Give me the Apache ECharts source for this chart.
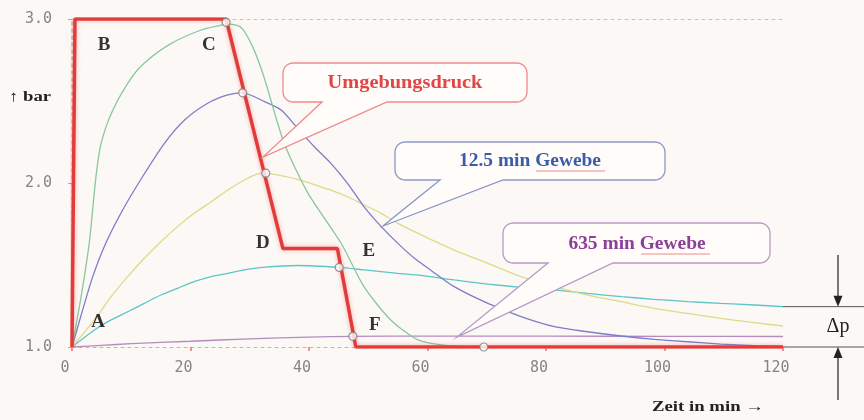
<!DOCTYPE html>
<html>
<head>
<meta charset="utf-8">
<script src="https://cdn.jsdelivr.net/npm/echarts@6/dist/echarts.min.js"></script>
<style>
html,body{margin:0;padding:0;background:#fcf8f5;}
#c{width:864px;height:420px;}
</style>
</head>
<body>
<div id="c"></div>
<script>
// ---- data (time in min, pressure in bar) ----
var xTicks = [0, 20, 40, 60, 80, 100, 120];
var yTicks = [1.0, 2.0, 3.0];

var ambient = [[0,1.0],[0.5,3.0],[26,3.0],[35.6,1.6],[44.8,1.6],[47.9,1.0],[120,1.0]];

var tissueGreen = [[0,1.0],[1.5,1.3],[2.9,1.63],[4.05,2.04],[4.9,2.24],[6.9,2.445],[10.2,2.65],[12.8,2.75],[16.7,2.85],[21.8,2.933],[25.2,2.963],[26.0,2.97],[28.5,2.95],[30.5,2.83],[32.4,2.646],[35.8,2.244],[39.8,1.94],[45.4,1.634],[49.3,1.366],[53.8,1.165],[58.4,1.043],[63,1.01],[69.5,1.0],[80,1.0],[120,1.0]];

var tissueBlue = [[0,1.0],[1.8,1.226],[3.5,1.429],[5.7,1.632],[8.55,1.835],[11.9,2.038],[15.6,2.242],[19.0,2.384],[22.9,2.486],[26.3,2.537],[28.8,2.55],[32.5,2.496],[35.3,2.445],[38.1,2.333],[40.9,2.221],[43.7,2.12],[46.5,1.998],[49.3,1.855],[52.2,1.734],[55.0,1.632],[57.8,1.541],[60.5,1.47],[64.5,1.368],[70.2,1.266],[75.8,1.185],[81.4,1.124],[87.0,1.093],[92.7,1.067],[98.3,1.047],[103.9,1.032],[109.5,1.018],[115.2,1.008],[120,1.002]];

var tissueYellow = [[0,1.0],[3.8,1.165],[6.6,1.307],[9.4,1.429],[12.2,1.541],[15.0,1.642],[17.8,1.734],[20.6,1.815],[23.5,1.886],[26.3,1.957],[29.1,2.018],[31.3,2.055],[32.7,2.06],[35.3,2.045],[38.1,2.022],[40.9,1.99],[43.7,1.957],[46.5,1.916],[49.3,1.866],[52.2,1.815],[55.0,1.754],[57.8,1.703],[60.6,1.655],[64.5,1.591],[70.2,1.51],[75.8,1.429],[81.4,1.368],[87.0,1.317],[92.7,1.276],[98.3,1.236],[103.9,1.205],[109.5,1.175],[115.2,1.148],[120,1.128]];

var tissueCyan = [[0,1.0],[3.8,1.104],[6.6,1.165],[9.4,1.215],[12.2,1.266],[15.0,1.317],[17.8,1.358],[20.6,1.398],[23.5,1.429],[26.3,1.449],[29.1,1.47],[32.5,1.487],[38.1,1.497],[45.1,1.485],[49.3,1.47],[55.0,1.449],[58.9,1.437],[64.5,1.409],[70.2,1.384],[75.8,1.364],[81.4,1.348],[87.0,1.327],[92.7,1.307],[98.3,1.291],[103.9,1.277],[109.5,1.266],[115.2,1.256],[120,1.246]];

var tissuePurple = [[0,1.0],[5,1.01],[10,1.02],[20,1.035],[30,1.05],[40,1.06],[47.4,1.065],[60,1.066],[80,1.066],[100,1.065],[120,1.064]];

var crossPoints = [[26,2.98],[28.8,2.55],[32.7,2.06],[45.1,1.485],[47.4,1.065],[69.5,1.0]];

var letterNames = ['A','B','C','D','E','F'];
var letterPos = [[4.4,1.152],[5.4,2.84],[23.1,2.84],[32.2,1.634],[50.1,1.585],[51.1,1.134]];

var chart = echarts.init(document.getElementById('c'));
var serif = '"Liberation Serif", "DejaVu Serif", serif';
var mono = '"DejaVu Sans Mono", "Liberation Mono", monospace';

function tissue(data, color){
  return {type:'line', data:data, smooth:0.25, symbol:'none',
    lineStyle:{color:color, width:1.3}, z:2, silent:true};
}

var option = {
  backgroundColor:'#fcf8f5',
  animation:false,
  grid:{left:72, right:81, top:19, bottom:73},
  xAxis:[{
    type:'value', min:0, max:120, interval:20,
    axisLine:{show:true, lineStyle:{color:'#b8b8b8', type:[3,4], width:1}},
    axisTick:{show:true, length:4, lineStyle:{color:'#e87070', width:1.5}},
    axisLabel:{show:true, margin:14, color:'#858585', fontFamily:mono, fontSize:15, padding:[0,14,0,0],
      formatter:function(v){return xTicks.indexOf(v)>=0 ? String(v) : '';}},
    splitLine:{show:false}
  },{
    type:'value', min:0, max:120, position:'top',
    axisLine:{show:true, lineStyle:{color:'#c4c4c4', type:[3,4], width:1}},
    axisTick:{show:false}, axisLabel:{show:false}, splitLine:{show:false}
  }],
  yAxis:[{
    type:'value', min:1, max:3, interval:1,
    axisLine:{show:true, lineStyle:{color:'#e8a0a0', type:[3,4], width:1}},
    axisTick:{show:true, length:4, inside:false, lineStyle:{color:'#aaaaaa'}},
    axisLabel:{show:true, margin:20, color:'#858585', fontFamily:mono, fontSize:15,
      formatter:function(v){return v.toFixed(1);}},
    splitLine:{show:false}
  },{
    type:'value', min:1, max:3, position:'right',
    axisLine:{show:true, lineStyle:{color:'#c4c4c4', type:[3,4], width:1.5}},
    axisTick:{show:false}, axisLabel:{show:false}, splitLine:{show:false}
  }],
  series:[
    tissue(tissuePurple, '#b58cc0'),
    tissue(tissueCyan, '#5cc6c6'),
    tissue(tissueYellow, '#dcdc86'),
    tissue(tissueBlue, '#7d7dca'),
    tissue(tissueGreen, '#88c89c'),
    {type:'line', data:ambient, symbol:'none', z:4, silent:true,
      lineStyle:{color:'#e23c3a', width:3.5, shadowBlur:4, shadowColor:'rgba(235,80,80,0.45)'}},
    {type:'scatter', data:crossPoints, symbol:'circle', symbolSize:8, z:6, silent:true,
      itemStyle:{color:'#ffffff', borderColor:'#7a7a7a', borderWidth:1.2}},
    {type:'scatter', symbol:'circle', symbolSize:1, z:7, silent:true,
      itemStyle:{color:'rgba(0,0,0,0)'},
      data:letterNames.map(function(n,i){return {name:n, value:letterPos[i]};}),
      label:{show:true, position:'inside', formatter:'{b}', color:'#000000', textBorderWidth:0,
        fontFamily:serif, fontWeight:'bold', fontSize:19}}
  ]
};
chart.setOption(option);

// ---- annotations ----
function arcPts(cx,cy,r,a0,a1,pts){
  for(var k=0;k<=6;k++){var a=a0+(a1-a0)*k/6; pts.push([cx+r*Math.cos(a), cy+r*Math.sin(a)]);}
}
function calloutPts(x1,y1,x2,y2,r,a1,a2,tx,ty){
  var P=Math.PI, pts=[[a1,y2],[tx,ty],[a2,y2]];
  arcPts(x2-r,y2-r,r,P/2,0,pts);
  arcPts(x2-r,y1+r,r,0,-P/2,pts);
  arcPts(x1+r,y1+r,r,-P/2,-P,pts);
  arcPts(x1+r,y2-r,r,P,P/2,pts);
  return pts;
}
function label(txt,x,y,color,size,sx,bold){
  return {type:'text', x:x, y:y, z:11, scaleX:sx,
    style:{text:txt, fill:color, font:(bold?'bold ':'')+size+'px '+serif, textAlign:'center', textVerticalAlign:'middle'}};
}
var pTop = chart.convertToPixel({xAxisIndex:0, yAxisIndex:0}, [120, tissueCyan[tissueCyan.length-1][1]]);
var pBot = chart.convertToPixel({xAxisIndex:0, yAxisIndex:0}, [120, 1.0]);
var ax = 838;

var g = [
  {type:'polygon', shape:{points:calloutPts(283,63,527,102,10,322,387,263,157)}, z:10,
    style:{fill:'#fffcfa', stroke:'#f08a8a', lineWidth:1.3}},
  label('Umgebungsdruck',405,83,'#e04646',18,1.13,true),

  {type:'polygon', shape:{points:calloutPts(395,142,665,180,10,440,503,383,226)}, z:10,
    style:{fill:'#fffcfa', stroke:'#8a98c8', lineWidth:1.3}},
  label('12.5 min Gewebe',530,161,'#3b5ca8',18,1.08,true),
  {type:'line', z:11, shape:{x1:536, y1:171, x2:605, y2:171}, style:{stroke:'#f08a8a', lineWidth:1}},

  {type:'polygon', shape:{points:calloutPts(503,223,770,263,10,548,613,457,337)}, z:10,
    style:{fill:'#fffcfa', stroke:'#b89ac4', lineWidth:1.3}},
  label('635 min Gewebe',637,244,'#8b3f99',18,1.08,true),
  {type:'line', z:11, shape:{x1:641, y1:254, x2:710, y2:254}, style:{stroke:'#f08a8a', lineWidth:1}},

  label('\u2191 bar',30,97,'#222',15,1.25,true),
  label('Zeit in min \u2192',708,407,'#222',15,1.25,true),

  {type:'line', shape:{x1:pTop[0], y1:pTop[1], x2:864, y2:pTop[1]}, style:{stroke:'#555', lineWidth:1}},
  {type:'line', shape:{x1:pBot[0], y1:pBot[1], x2:864, y2:pBot[1]}, style:{stroke:'#555', lineWidth:1}},
  {type:'line', shape:{x1:ax, y1:255, x2:ax, y2:pTop[1]-9}, style:{stroke:'#222', lineWidth:1.2}},
  {type:'polygon', shape:{points:[[ax-4.5,pTop[1]-11],[ax+4.5,pTop[1]-11],[ax,pTop[1]]]}, style:{fill:'#222'}},
  {type:'line', shape:{x1:ax, y1:400, x2:ax, y2:pBot[1]+9}, style:{stroke:'#222', lineWidth:1.2}},
  {type:'polygon', shape:{points:[[ax-4.5,pBot[1]+11],[ax+4.5,pBot[1]+11],[ax,pBot[1]]]}, style:{fill:'#222'}},
  label('\u0394p',838,(pTop[1]+pBot[1])/2,'#222',20,1,false)
];
chart.setOption({graphic:g});
</script>
</body>
</html>
